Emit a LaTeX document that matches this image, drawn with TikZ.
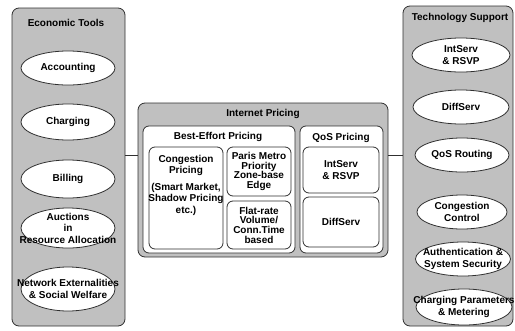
\documentclass[tikz,border=0pt]{standalone}
\usepackage{fontspec}
\setmainfont{Liberation Sans}
\usetikzlibrary{shapes.geometric,positioning}
\definecolor{panelgray}{HTML}{C0C0C0}
\definecolor{edgeline}{HTML}{303030}
\newcommand{\boxfont}{\fontsize{10}{11.5}\selectfont\bfseries}
\newcommand{\tightfont}{\fontsize{10}{9.7}\selectfont\bfseries}
\tikzset{
  panel/.style={draw=edgeline, fill=panelgray, rounded corners=7pt,
    line width=0.8pt, inner sep=0pt},
  innerbox/.style={draw=edgeline, fill=white, rounded corners=6pt,
    line width=0.8pt, inner sep=0pt, align=center, font=\tightfont},
  oval/.style={ellipse, draw=edgeline, fill=white, line width=0.8pt,
    minimum width=94pt, minimum height=34pt, inner sep=0pt},
  ovaltext/.style={align=center, inner sep=0pt, font=\boxfont},
  headline/.style={inner sep=0pt, font=\boxfont},
  link/.style={draw=edgeline, line width=0.8pt}
}
\begin{document}
\begin{tikzpicture}[x=1pt, y=-1pt]
  \useasboundingbox (0,0) rectangle (515,330);
  % outer panels
  \node[panel, minimum width=113pt, minimum height=318pt] (econ) at (68.5,167) {};
  \node[panel, minimum width=110pt, minimum height=320pt] (tech) at (458,166) {};
  \node[panel, minimum width=250pt, minimum height=154pt] (pricing) at (263,180) {};
  \node[headline] (econ-title) at (66,23) {Economic Tools};
  \node[headline] (tech-title) at (460,18) {Technology Support};
  \node[headline] (pricing-title) at (263,114) {Internet Pricing};
  % economic tools
  \node[oval] (acc) at (68,68) {};
  \node[ovaltext] (acc-txt) at (acc) {Accounting};
  \node[oval, minimum height=36pt] (chg) at (68,122) {};
  \node[ovaltext] (chg-txt) at (chg) {Charging};
  \node[oval, minimum height=38pt] (bill) at (68,179) {};
  \node[ovaltext] (bill-txt) at (bill) {Billing};
  \node[oval, minimum height=40pt] (auct) at (68,228) {};
  \node[ovaltext] (auct-txt) at (auct) {Auctions\\in\\Resource Allocation};
  \node[oval, minimum height=44pt] (netx) at (68,289) {};
  \node[ovaltext] (netx-txt) at (netx) {Network Externalities\\\& Social Welfare};
  % technology support
  \node[oval, minimum width=98pt] (isv) at (461,55) {};
  \node[ovaltext] (isv-txt) at (isv) {IntServ\\\& RSVP};
  \node[oval, minimum width=96pt] (dsv) at (461,107) {};
  \node[ovaltext] (dsv-txt) at (dsv) {DiffServ};
  \node[oval, minimum width=94pt] (qosr) at (462,155) {};
  \node[ovaltext] (qosr-txt) at (qosr) {QoS Routing};
  \node[oval, minimum width=90pt] (cctl) at (462,212) {};
  \node[ovaltext] (cctl-txt) at (cctl) {Congestion\\Control};
  \node[oval, minimum width=95pt] (auth) at (463,259) {};
  \node[ovaltext] (auth-txt) at (auth) {Authentication \&\\System Security};
  \node[oval, minimum width=96pt, minimum height=36pt] (meter) at (464,307) {};
  \node[ovaltext] (meter-txt) at (meter) {Charging Parameters\\\& Metering};
  % internet pricing
  \node[innerbox, minimum width=152pt, minimum height=127pt] (best) at (219,189.5) {};
  \node[innerbox, minimum width=83pt, minimum height=127pt] (qos) at (341.5,189.5) {};
  \node[headline] (best-title) at (218,137) {Best-Effort Pricing};
  \node[headline] (qos-title) at (341,138) {QoS Pricing};
  \node[innerbox, minimum width=74pt, minimum height=102pt] (cong) at (186,198) {};
  \node[ovaltext, anchor=north] (cong-txt) at (186,155)
    {Congestion\\Pricing\\[5pt](Smart Market,\\Shadow Pricing\\etc.)};
  \node[innerbox, minimum width=64pt, minimum height=49pt] (paris) at (259,171.5)
    {Paris Metro\\Priority\\Zone-base\\Edge};
  \node[innerbox, minimum width=64pt, minimum height=48pt] (flat) at (259,225)
    {Flat-rate\\Volume/\\Conn.Time\\based};
  \node[innerbox, font=\boxfont, minimum width=76pt, minimum height=46pt] (qos-isv) at (341,170)
    {IntServ\\\& RSVP};
  \node[innerbox, font=\boxfont, minimum width=76pt, minimum height=50pt] (qos-dsv) at (341,222)
    {DiffServ};
  % connectors
  \coordinate (tie) at (263,155);
  \draw[link] (econ.east |- tie) -- (pricing.west |- tie);
  \draw[link] (pricing.east |- tie) -- (tech.west |- tie);
\end{tikzpicture}
\end{document}
